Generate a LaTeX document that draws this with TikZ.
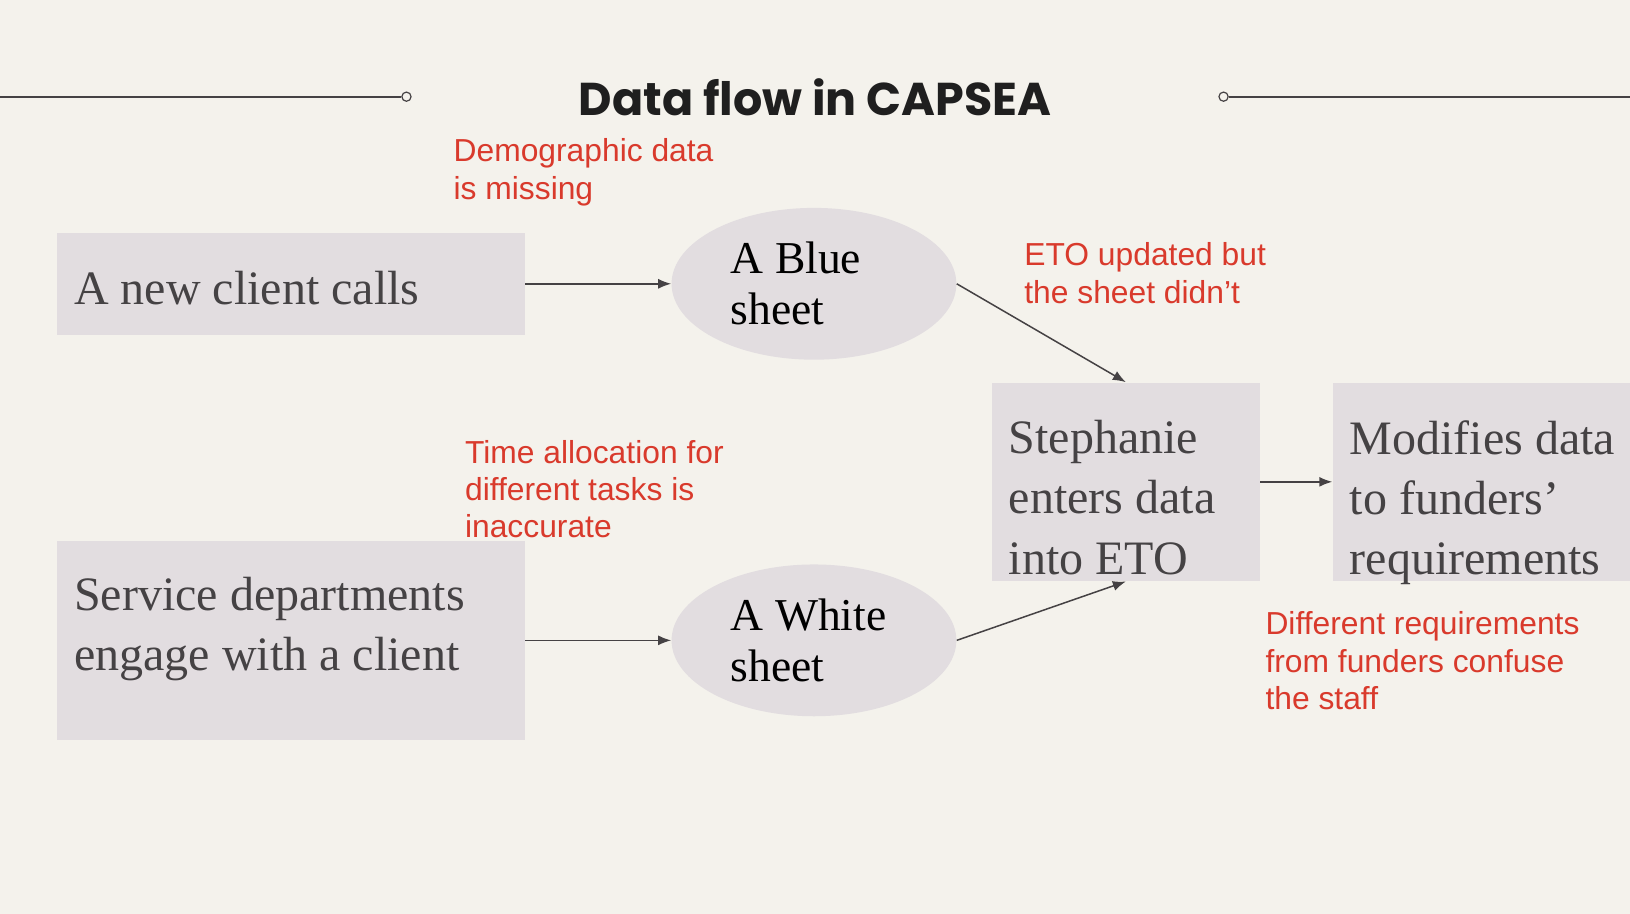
\documentclass[tikz,border=0pt]{standalone}
\usepackage{fontspec}
\setmainfont{Liberation Serif}
\newfontfamily\titlefont{Poppins}
\newfontfamily\notefont{Liberation Sans}
\usetikzlibrary{shapes.geometric, arrows.meta, fit}
\definecolor{paper}{HTML}{F4F2EC}
\definecolor{boxgrey}{HTML}{E2DDE0}
\definecolor{inkgrey}{HTML}{454244}
\definecolor{notered}{HTML}{D93A2C}

\begin{document}
\begin{tikzpicture}[x=0.5198pt, y=-0.5198pt,
    box/.style={fill=boxgrey, inner sep=0pt},
    boxtext/.style={inner sep=0pt, align=left, text=inkgrey, font=\fontsize{24}{30.1}\selectfont},
    sheet/.style={ellipse, fill=boxgrey, inner sep=0pt, minimum width=142.4pt, minimum height=75.9pt, text width=83.2pt, align=flush left, font=\fontsize{22.8}{25.5}\selectfont},
    note/.style={inner sep=0pt, anchor=north west, align=left, text=notered, font=\notefont\fontsize{15.9}{18.7}\selectfont},
    dot/.style={circle, draw=inkgrey, fill=paper, line width=0.6pt, minimum size=4.6pt, inner sep=0pt},
    rule/.style={draw=inkgrey, line width=0.9pt},
    flow/.style={-{Latex[length=6.5pt, width=5pt]}, draw=inkgrey, line width=0.75pt}]
    \fill[paper] (0,0) rectangle (1568,879);
    \useasboundingbox (0,0) rectangle (1568,879);

    \node[font=\titlefont\bfseries\fontsize{23}{27}\selectfont, text=black!88] (title) at (784,94) {Data flow in CAPSEA};
    \coordinate (ruleL) at (0,93);
    \coordinate (ruleR) at (1568,93);
    \node[dot] (dotL) at (391,93) {};
    \node[dot] (dotR) at (1177,93) {};
    \draw[rule] (ruleL) -- (dotL);
    \draw[rule] (dotR) -- (ruleR);

    \node[box, fit={(55,224) (505,322)}] (call) {};
    \node[box, fit={(55,520) (505,712)}] (service) {};
    \node[box, fit={(954,368) (1212,559)}] (enter) {};
    \node[box, fit={(1282,368) (1568,559)}] (modify) {};

    \node[boxtext, anchor=west] (calltext) at (71,277) {A new client calls};
    \node[boxtext, anchor=north west] (servicetext) at (71,555) {Service departments\\engage with a client};
    \node[boxtext, anchor=north west] (entertext) at (970,404) {Stephanie\\enters data\\into ETO};
    \node[boxtext, anchor=north west] (modifytext) at (1298,404) {Modifies data\\to funders’\\requirements};

    \node[sheet] (blue) at (783,273) {A Blue\\sheet};
    \node[sheet] (white) at (783,616) {A White\\sheet};

    \draw[flow] (call) -- (blue);
    \draw[flow] (service) -- (white);
    \draw[flow] (blue.east) -- (enter.north);
    \draw[flow] (white.east) -- (enter.south);
    \draw[flow] (enter) -- (modify);

    \node[note] (missing) at (436,133) {Demographic data\\is missing};
    \node[note] (mismatch) at (985,233) {ETO updated but\\the sheet didn’t};
    \node[note] (timing) at (447,423) {Time allocation for\\different tasks is\\inaccurate};
    \node[note] (confuse) at (1217,588) {Different requirements\\from funders confuse\\the staff};
\end{tikzpicture}
\end{document}
